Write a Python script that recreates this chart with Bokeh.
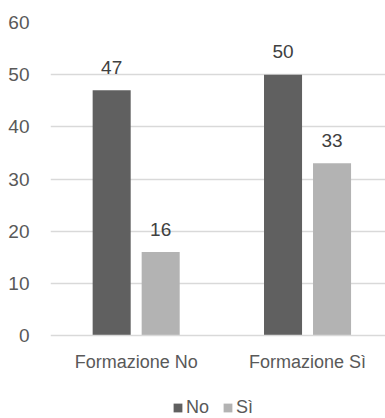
import numpy as np
from bokeh.plotting import figure
from bokeh.models import Range1d, FixedTicker, Legend, LegendItem, ColumnDataSource, LinearAxis
from bokeh.core.properties import value
from bokeh.embed import file_html
from bokeh.resources import INLINE

categories = ["Formazione No", "Formazione Sì"]
series = ["No", "Sì"]
values_no = [47, 50]
values_si = [16, 33]
y_ticks = [0, 10, 20, 30, 40, 50, 60]

FONT = "Liberation Sans"
DARK = "#606060"
LIGHT = "#b3b3b3"
GRID = "#d9d9d9"

centers = np.arange(len(categories)) + 0.5
offset = 0.143
bar_w = 0.222

# the frame runs to the bottom edge so the legend under the axis stays visible
p = figure(width=385, height=418, output_backend="svg", toolbar_location=None,
           x_range=Range1d(0, 1.955), y_range=Range1d(-15.9, 60),
           x_axis_location=None,
           min_border_left=50, min_border_right=0, min_border_top=22, min_border_bottom=0)
p.outline_line_color = None
p.background_fill_color = "white"
p.border_fill_color = "white"

src_no = ColumnDataSource(dict(x=centers - offset, top=values_no, lbl=[str(v) for v in values_no]))
src_si = ColumnDataSource(dict(x=centers + offset, top=values_si, lbl=[str(v) for v in values_si]))

r_no = p.vbar(x="x", top="top", width=bar_w, source=src_no, color=DARK, line_color=None)
r_si = p.vbar(x="x", top="top", width=bar_w, source=src_si, color=LIGHT, line_color=None)

for src in (src_no, src_si):
    p.text(x="x", y="top", text="lbl", source=src, text_align="center",
           text_baseline="alphabetic", y_offset=-23, text_font=value(FONT),
           text_font_size="19px", text_color="#404040")

# category axis pinned at y = 0
xaxis = LinearAxis(fixed_location=0, ticker=FixedTicker(ticks=list(centers)))
xaxis.major_label_overrides = {float(c): cat for c, cat in zip(centers, categories)}
xaxis.major_tick_line_color = None
xaxis.major_tick_out = 0
xaxis.major_tick_in = 0
xaxis.minor_tick_line_color = None
xaxis.axis_line_color = GRID
xaxis.axis_line_width = 1.5
xaxis.major_label_text_font = FONT
xaxis.major_label_text_font_size = "18px"
xaxis.major_label_text_color = "#595959"
xaxis.major_label_standoff = 16
p.add_layout(xaxis, "below")

p.yaxis.ticker = FixedTicker(ticks=y_ticks)
p.yaxis.axis_line_color = None
p.yaxis.major_tick_line_color = None
p.yaxis.major_tick_out = 0
p.yaxis.major_tick_in = 0
p.yaxis.minor_tick_line_color = None
p.yaxis.major_label_text_font = FONT
p.yaxis.major_label_text_font_size = "19px"
p.yaxis.major_label_text_color = "#595959"
p.yaxis.major_label_standoff = 21

p.xgrid.grid_line_color = None
p.ygrid.ticker = FixedTicker(ticks=y_ticks[1:])
p.ygrid.grid_line_color = GRID
p.ygrid.grid_line_width = 1.5

legend = Legend(items=[LegendItem(label=series[0], renderers=[r_no]),
                       LegendItem(label=series[1], renderers=[r_si])],
                orientation="horizontal", location=(122, 0),
                label_text_font=FONT, label_text_font_size="18px",
                label_text_color="#595959", glyph_width=11, glyph_height=11,
                label_standoff=3, spacing=13, padding=0, margin=0,
                border_line_color=None, background_fill_alpha=0)
p.add_layout(legend, "center")

open("out.html", "w").write(file_html(p, INLINE))
